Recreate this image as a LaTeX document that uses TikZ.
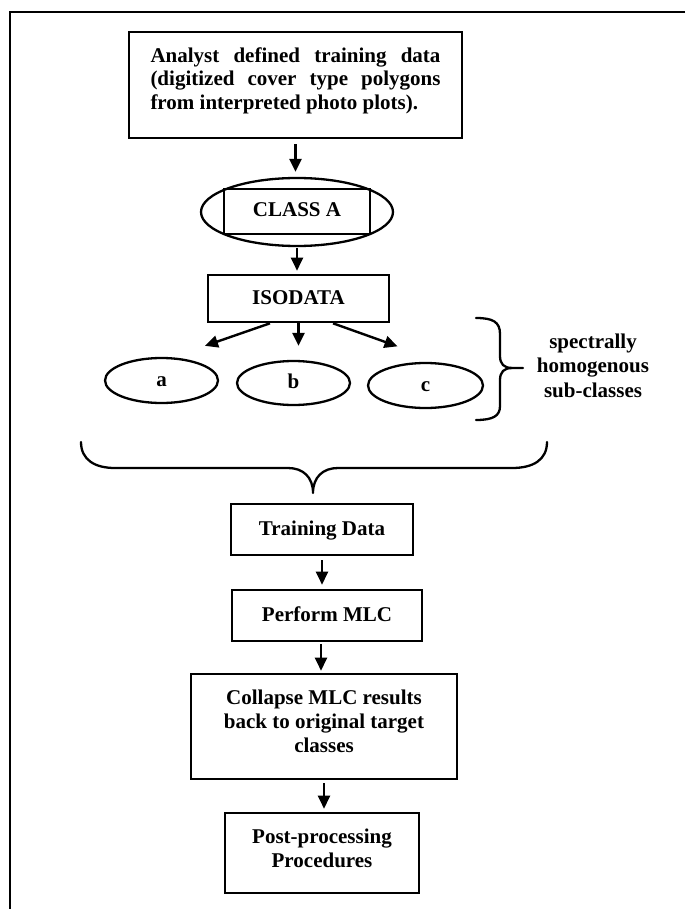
\documentclass[tikz,border=0pt]{standalone}
\usepackage{fontspec}
\setmainfont{Liberation Serif}
\usetikzlibrary{arrows.meta,shapes.geometric,calc}
\begin{document}
\begin{tikzpicture}[x=1pt,y=-1pt,
  txt/.style={font=\fontsize{21}{24}\selectfont\bfseries},
  stepbox/.style={draw,line width=2.6pt,rectangle,inner sep=0pt,txt,align=center},
  oneline/.style={text height=14pt,text depth=3pt},
  oval/.style={draw,line width=2.3pt,ellipse,inner sep=0pt,txt,oneline},
  arr/.style={line width=2.4pt,-{Triangle[length=13pt,width=12pt]}},
  bracepath/.style={line width=2.3pt,line join=round,line cap=round}]
\useasboundingbox (0,0) rectangle (685,909);

% outer frame rules
\draw[line width=2.3pt] (685,12) -- (10,12) -- (10,909);

% source box
\node[stepbox, minimum width=333pt, minimum height=106pt, text width=290pt,
      align=justify, font=\fontsize{21}{23.5}\selectfont\bfseries] (src) at (295.5,85)
  {Analyst defined training data\linebreak (digitized cover type polygons\linebreak from interpreted photo plots).\rule[-13pt]{0pt}{13pt}};

% class A: ellipse with a box on top
\node[oval, minimum width=192pt, minimum height=68pt] (classE) at (297,212) {};
\node[stepbox, oneline, minimum width=146pt, minimum height=45pt] (classA) at (297,211.5) {CLASS A};

% ISODATA
\node[stepbox, oneline, minimum width=181pt, minimum height=47pt] (iso) at (298.5,298.5) {ISODATA};

% sub-classes
\node[oval, minimum width=113pt, minimum height=45pt] (a) at (161.5,380.5) {a};
\node[oval, minimum width=113pt, minimum height=44pt] (b) at (293.5,383) {b};
\node[oval, minimum width=115pt, minimum height=45pt] (c) at (425.5,385.5) {c};

% label for the sub-classes
\node[txt, align=center, font=\fontsize{21}{24.5}\selectfont\bfseries] (lab) at (593,365.4)
  {spectrally\\homogenous\\sub-classes};

% lower chain
\node[stepbox, oneline, minimum width=182pt, minimum height=51pt] (train) at (322,529.5) {Training Data};
\node[stepbox, oneline, minimum width=190pt, minimum height=51pt] (mlc) at (327,615.5) {Perform MLC};
\node[stepbox, minimum width=266pt, minimum height=105pt] (coll) at (324,726.5)
  {Collapse MLC results\\back to original target\\classes\rule[-11pt]{0pt}{11pt}};
\node[stepbox, minimum width=194pt, minimum height=80pt] (post) at (322,853)
  {Post-processing\\Procedures\rule[-10pt]{0pt}{10pt}};

% arrows
\draw[arr, shorten <=5pt, shorten >=5pt] (src.south) -- (src.south |- classE.north);
\draw[arr, shorten <=1pt, shorten >=3pt] (classE.south) -- (classE.south |- iso.north);
\draw[arr] ($(iso.south)+(-28.5,0)$) -- ($(a.north)+(43.5,-11)$);
\draw[arr, shorten >=14pt] (iso.south) -- (iso.south |- b.north);
\draw[arr] ($(iso.south)+(34.5,0)$) -- ($(c.north)+(-28,-15.5)$);
\draw[arr, shorten <=4pt, shorten >=4pt] (train.south) -- (train.south |- mlc.north);
\draw[arr, shorten <=2pt, shorten >=2pt] ($(mlc.south)+(-6,0)$) -- ($(mlc.south |- coll.north)+(-6,0)$);
\draw[arr, shorten <=3pt, shorten >=3pt] (coll.south) -- (coll.south |- post.north);

% brace grouping the sub-classes
\coordinate (rbTop) at (476,318);
\coordinate (rbTip) at (523,368);
\coordinate (rbBot) at (476,420);
\draw[bracepath] (rbTop) .. controls (493,318) and (500,322) .. (500,334) -- (500,356)
  .. controls (500,364) and (504,368) .. (512,368) -- (rbTip);
\draw[bracepath] (512,368) .. controls (504,368) and (500,372) .. (500,380) -- (500,406)
  .. controls (500,416) and (493,420) .. (rbBot);

% brace collecting everything above the training data
\coordinate (bbL) at (81,442);
\coordinate (bbR) at (547,442);
\coordinate (bbTip) at (313,493);
\draw[bracepath] (bbL) .. controls (81,460) and (95,468) .. (115,468) -- (288,468)
  .. controls (303,468) and (313,477) .. (bbTip)
  .. controls (313,477) and (323,468) .. (338,468) -- (512,468)
  .. controls (533,468) and (547,460) .. (bbR);
\end{tikzpicture}
\end{document}
